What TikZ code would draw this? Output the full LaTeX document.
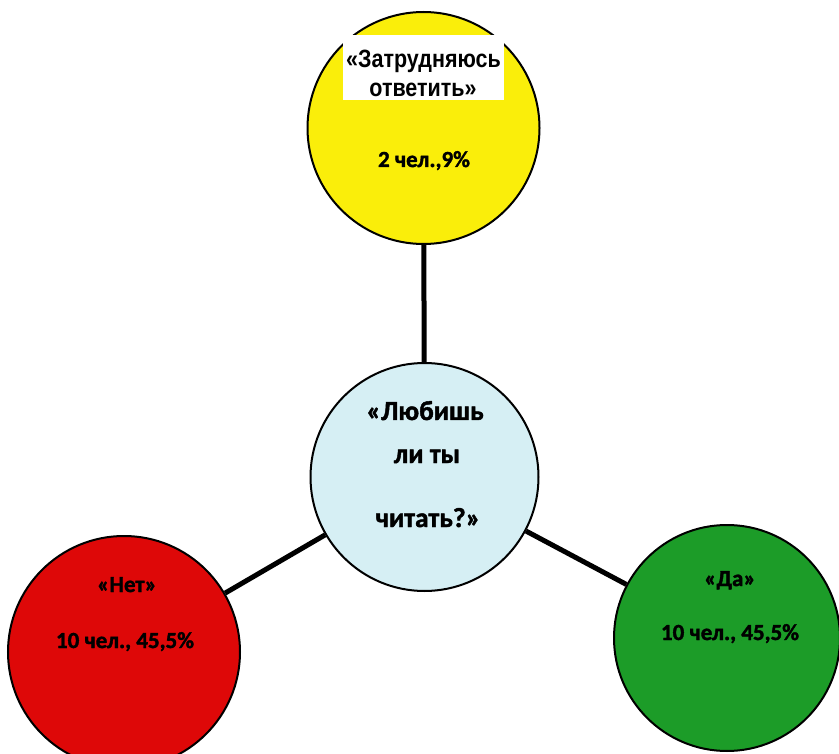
\documentclass[tikz,border=0pt]{standalone}
\usepackage{fontspec}
\setmainfont{Carlito}[BoldFeatures={FakeBold=1.6}]
\newfontfamily\narrowfont{Liberation Sans}[FakeStretch=0.86]
\definecolor{yellowc}{RGB}{250,238,10}
\definecolor{bluec}{RGB}{214,239,244}
\definecolor{redc}{RGB}{222,8,8}
\definecolor{greenc}{RGB}{28,156,40}
\tikzset{
  circ/.style={circle, draw=black, line width=2pt, inner sep=0pt, minimum size=#1},
  conn/.style={line width=5pt, black},
  lbl/.style={font=\bfseries\fontsize{23}{23}\selectfont, anchor=base, inner sep=0pt},
  qlbl/.style={font=\bfseries\fontsize{27.5}{27.5}\selectfont, anchor=base, inner sep=0pt},
  toplbl/.style={font=\narrowfont\bfseries\fontsize{25}{25}\selectfont, anchor=base, inner sep=0pt}
}
\begin{document}
\begin{tikzpicture}[x=1pt,y=-1pt]
\useasboundingbox[fill=white] (0,0) rectangle (839,754);
% circles
\node[circ=232pt, fill=yellowc] (q) at (423.5,128) {};
\node[circ=228pt, fill=bluec] (c) at (424.5,477) {};
\node[circ=232pt, fill=redc] (no) at (124,652) {};
\node[circ=226pt, fill=greenc] (yes) at (727,638) {};
% connectors
\draw[conn] (q) -- (c);
\draw[conn] (no) -- (c);
\draw[conn] (c) -- (yes);
% top label box
\node[fill=white, inner sep=0pt, minimum width=161pt, minimum height=65pt] (box) at (423.5,67.5) {};
\node[toplbl] (t1) at (423.5,68) {«Затрудняюсь};
\node[toplbl] (t2) at (423,97) {ответить»};
\node[lbl] (t3) at (424,167) {2 чел.,9\%};
% central question
\node[qlbl] (c1) at (425,420) {«Любишь};
\node[qlbl] (c2) at (427,463) {ли ты};
\node[qlbl] (c3) at (428,527) {читать?»};
% no
\node[lbl] (n1) at (127,592) {«Нет»};
\node[lbl] (n2) at (125,648) {10 чел., 45,5\%};
% yes
\node[lbl] (y1) at (730,586) {«Да»};
\node[lbl] (y2) at (730,640) {10 чел., 45,5\%};
\end{tikzpicture}
\end{document}
